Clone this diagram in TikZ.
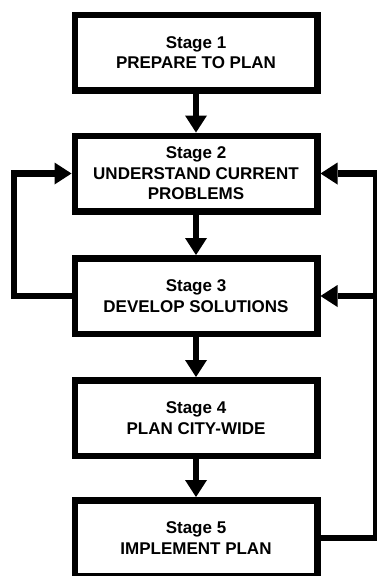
\documentclass[tikz,border=0pt]{standalone}
\usepackage{fontspec}
\setmainfont{Liberation Sans}
\usetikzlibrary{arrows.meta}

\begin{document}
\begin{tikzpicture}[x=1pt, y=-1pt,
    stagebox/.style={draw, line width=6.5pt, minimum width=242.5pt, minimum height=75.5pt,
        inner sep=0pt, align=center, font=\bfseries\fontsize{17}{20.5}\selectfont},
    flowline/.style={line width=6.5pt},
    flowarrow/.style={flowline, -{Triangle[length=17pt, width=22pt, line width=0pt]}}]
    \useasboundingbox (0, 0) rectangle (377, 576);

    % Stage boxes
    \node[stagebox] (s1) at (196, 52.5) {Stage 1\\PREPARE TO PLAN};
    \node[stagebox] (s2) at (196, 173.5) {Stage 2\\UNDERSTAND CURRENT\\PROBLEMS};
    \node[stagebox] (s3) at (196, 296) {Stage 3\\DEVELOP SOLUTIONS};
    \node[stagebox] (s4) at (196, 418) {Stage 4\\PLAN CITY-WIDE};
    \node[stagebox] (s5) at (196, 538) {Stage 5\\IMPLEMENT PLAN};

    % Main sequence
    \draw[flowarrow] (s1) -- (s2);
    \draw[flowarrow] (s2) -- (s3);
    \draw[flowarrow] (s3) -- (s4);
    \draw[flowarrow] (s4) -- (s5);

    % Feedback loops
    \coordinate (lrail) at (14, 0);
    \coordinate (rrail) at (376.5, 0);
    \draw[flowarrow] (s3.west) -| (lrail |- s2.west) -- (s2.west);
    \draw[flowarrow] (s5.east) -| (rrail |- s2.east) -- (s2.east);
    \draw[flowarrow] (rrail |- s3.east) -- (s3.east);
\end{tikzpicture}
\end{document}
